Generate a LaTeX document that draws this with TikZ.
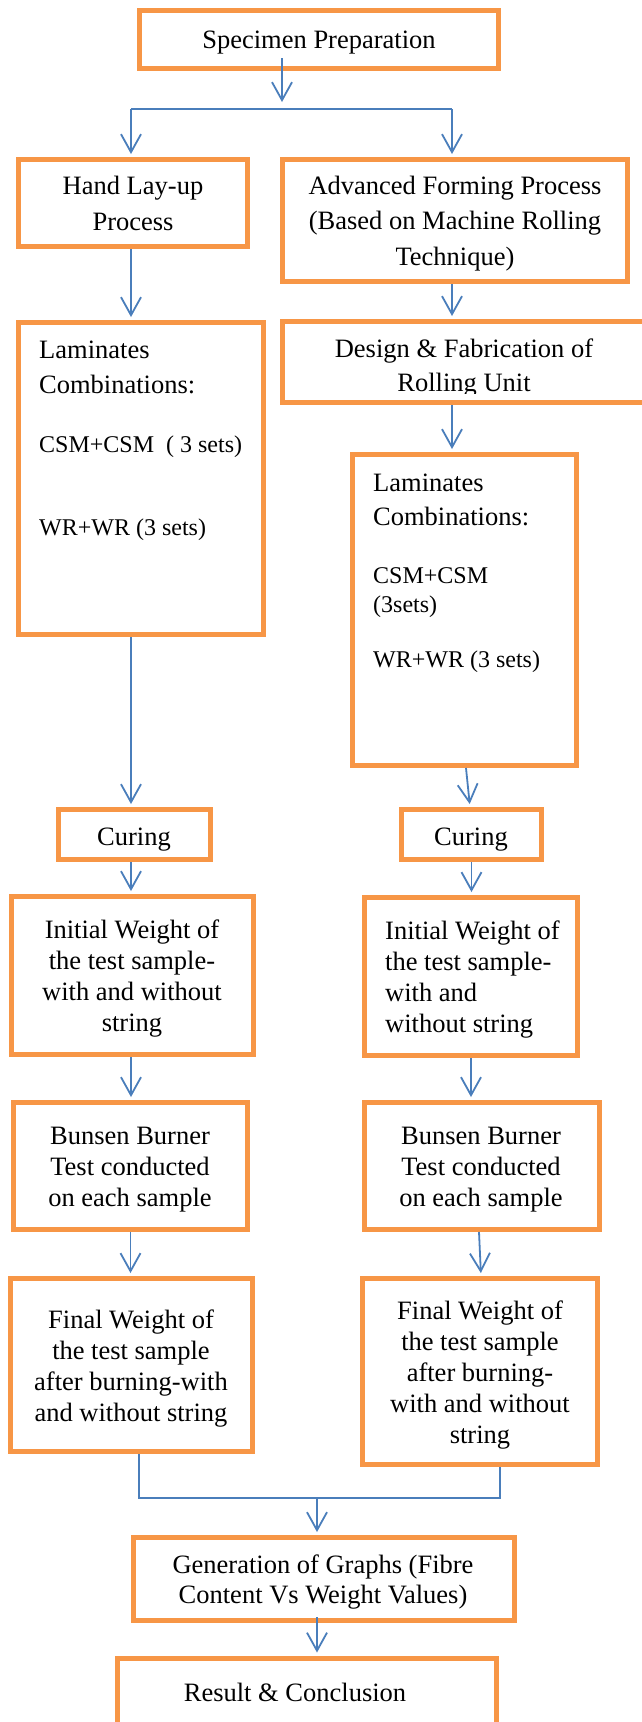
\documentclass[tikz,border=0pt]{standalone}
\usepackage{fontspec}
\setmainfont{Liberation Serif}
\usetikzlibrary{arrows.meta,calc}
\definecolor{boxorange}{HTML}{F79646}
\definecolor{linkblue}{HTML}{4A7EBB}
\newcommand{\ctext}[2]{\parbox[t]{360pt}{\centering\fontsize{26.5pt}{#1}\selectfont #2}}
\newcommand{\ltext}[4]{\parbox[t]{#1}{\raggedright\fontsize{#2}{#3}\selectfont #4}}
\tikzset{
  box/.style={draw=boxorange, line width=5pt, inner sep=0pt, fill=white},
  txt/.style={inner sep=0pt, anchor=base},
  txtl/.style={inner sep=0pt, anchor=base west},
  link/.style={draw=linkblue, line width=1.8pt},
  arr/.style={link, shorten >=3pt, -{Straight Barb[length=18pt,width=20pt]}}
}
\begin{document}
\begin{tikzpicture}[x=1pt,y=-1pt]
\useasboundingbox (0,0) rectangle (642,1722);
\fill[white] (0,0) rectangle (642,1722);
\clip (0,0) rectangle (642,1722);
% boxes
\node[box, minimum width=359pt, minimum height=58pt] (spec) at (319,39.5) {};
\node[box, minimum width=229pt, minimum height=87pt] (hand) at (133,203) {};
\node[box, minimum width=345pt, minimum height=122pt] (adv) at (455,220.5) {};
\node[box, minimum width=245pt, minimum height=312pt] (lamL) at (141,478.5) {};
\node[box, minimum width=363pt, minimum height=81pt] (design) at (464,362) {};
\node[box, minimum width=224pt, minimum height=311pt] (lamR) at (464.5,610) {};
\node[box, minimum width=152pt, minimum height=50pt] (curL) at (134.5,834.5) {};
\node[box, minimum width=140pt, minimum height=50pt] (curR) at (471.5,834.5) {};
\node[box, minimum width=242pt, minimum height=158pt] (iniL) at (132.5,975.5) {};
\node[box, minimum width=213pt, minimum height=158pt] (iniR) at (471,976.5) {};
\node[box, minimum width=234pt, minimum height=127pt] (bunL) at (130.5,1166) {};
\node[box, minimum width=235pt, minimum height=127pt] (bunR) at (482,1166) {};
\node[box, minimum width=242pt, minimum height=173pt] (finL) at (131.5,1365) {};
\node[box, minimum width=235pt, minimum height=186pt] (finR) at (480,1371.5) {};
\node[box, minimum width=381pt, minimum height=83pt] (gen) at (324,1579) {};
\node[box, minimum width=379pt, minimum height=100pt] (res) at (307,1708) {};
% texts
\node[txt] (tspec) at (319,48) {\ctext{35pt}{Specimen Preparation}};
\node[txt] (thand) at (133,194) {\ctext{36pt}{Hand Lay-up\\Process}};
\node[txt] (tadv) at (455,194) {\ctext{35.5pt}{Advanced Forming Process\\(Based on Machine Rolling\\Technique)}};
\begin{scope}
\clip (270,310) rectangle (650,393);
\node[txt] (tdes) at (464,357) {\ctext{34pt}{Design \& Fabrication of\\Rolling Unit}};
\end{scope}
\node[txtl] (tlamLa) at (39,358) {\ltext{220pt}{26.5pt}{35pt}{Laminates\\Combinations:}};
\node[txtl] (tlamLb) at (39,452) {\ltext{220pt}{24pt}{29pt}{CSM+CSM\ \ ( 3 sets)}};
\node[txtl] (tlamLc) at (39,535) {\ltext{220pt}{24pt}{29pt}{WR+WR (3 sets)}};
\node[txtl] (tlamRa) at (373,491) {\ltext{200pt}{26.5pt}{34pt}{Laminates\\Combinations:}};
\node[txtl] (tlamRb) at (373,583) {\ltext{200pt}{24pt}{29pt}{CSM+CSM\\(3sets)}};
\node[txtl] (tlamRc) at (373,667) {\ltext{200pt}{24pt}{29pt}{WR+WR (3 sets)}};
\node[txt] (tcurL) at (134,845) {\ctext{35pt}{Curing}};
\node[txt] (tcurR) at (471,845) {\ctext{35pt}{Curing}};
\node[txt] (tiniL) at (132,938) {\ctext{31.3pt}{Initial Weight of\\the test sample-\\with and without\\string}};
\node[txtl] (tiniR) at (385,939) {\ltext{200pt}{26.5pt}{31pt}{Initial Weight of\\the test sample-\\with and\\without string}};
\node[txt] (tbunL) at (130,1144) {\ctext{31pt}{Bunsen Burner\\Test conducted\\on each sample}};
\node[txt] (tbunR) at (481,1144) {\ctext{31pt}{Bunsen Burner\\Test conducted\\on each sample}};
\node[txt] (tfinL) at (131,1328) {\ctext{31.3pt}{Final Weight of\\the test sample\\after burning-with\\and without string}};
\node[txt] (tfinR) at (480,1319) {\ctext{31pt}{Final Weight of\\the test sample\\after burning-\\with and without\\string}};
\node[txt] (tgen) at (323,1573) {\ctext{30pt}{Generation of Graphs (Fibre\\Content Vs Weight Values)}};
\node[txt] (tres) at (295,1701) {\ctext{35pt}{Result \& Conclusion}};
% connectors
\coordinate (s0) at (282,58);
\coordinate (s1) at (282,105);
\draw[arr] (s0) -- (s1);
\coordinate (sl) at (131,109);
\coordinate (sr) at (452,109);
\draw[link] (sl) -- (sr);
\draw[arr] (sl) -- (sl |- hand.north);
\draw[arr] (sr) -- (sr |- adv.north);
\draw[arr] ($(hand.south)+(-2,0)$) -- ($(hand.south |- lamL.north)+(-2,0)$);
\draw[arr] ($(adv.south)+(-3,0)$) -- ($(adv.south |- design.north)+(-3,0)$);
\draw[arr] ($(adv.south |- design.south)+(-3,0)$) -- ($(adv.south |- lamR.north)+(-3,0)$);
\draw[arr] ($(hand.south |- lamL.south)+(-2,0)$) -- ($(hand.south |- curL.north)+(-2,0)$);
\draw[arr] ($(lamR.south)+(1.5,0)$) -- ($(curR.north)+(-1.5,0)$);
\draw[arr] ($(iniL.north |- curL.south)+(-1.5,0)$) -- ($(iniL.north)+(-1.5,0)$);
\draw[arr] (curR.south) -- (curR.south |- iniR.north);
\draw[arr] ($(iniL.south)+(-1.5,0)$) -- ($(iniL.south |- bunL.north)+(-1.5,0)$);
\draw[arr] (iniR.south) -- (iniR.south |- bunR.north);
\draw[arr] (bunL.south) -- (bunL.south |- finL.north);
\draw[arr] ($(bunR.south)+(-3,0)$) -- ($(finR.north)+(1,0)$);
\coordinate (mj) at (317,1498);
\draw[link] ($(finL.south)+(7.5,0)$) |- (mj) -| ($(finR.south)+(20,0)$);
\draw[arr] (mj) -- (mj |- gen.north);
\coordinate (g0) at (317,1617);
\draw[arr] (g0) -- (g0 |- res.north);
\end{tikzpicture}
\end{document}
